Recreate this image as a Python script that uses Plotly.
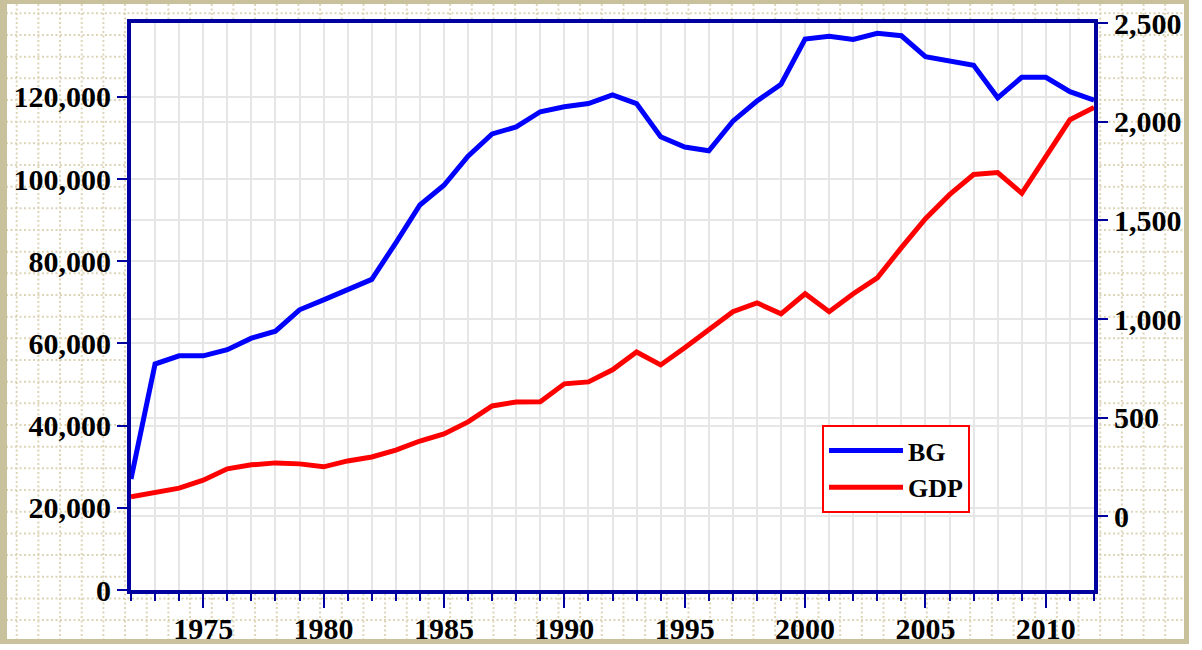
import plotly.graph_objects as go

years = list(range(1972, 2013))
bg = [27000, 55000, 57000, 57000, 58500, 61300, 63000, 68200, 70600, 73100, 75600,
      84500, 93700, 98500, 105600, 111000, 112700, 116400, 117600, 118400, 120500,
      118400, 110300, 107800, 106900, 114100, 119000, 123100, 134100, 134800, 134000,
      135500, 134900, 129800, 128800, 127700, 119800, 124800, 124800, 121300, 119200]
gdp = [98, 118, 142, 182, 240, 260, 270, 265, 250, 280, 300,
       335, 381, 417, 478, 559, 579, 580, 671, 681, 742,
       833, 767, 854, 945, 1037, 1082, 1026, 1128, 1037, 1128,
       1209, 1362, 1509, 1631, 1733, 1743, 1638, 1824, 2011, 2073]

W, H = 1202, 650
L, R, T, B = 131, 108, 23, 60
PW, PH = W - L - R, H - T - B

def fx(px):
    return (px - L) / PW

def fy(py):
    return (H - B - py) / PH

FONT = dict(family="Liberation Serif", size=30, color="black", weight="bold")
LFONT = dict(family="Liberation Serif", size=26, color="black", weight="bold")
BLUE_AX = "#0000a0"
GRID = "#e6e6e6"
TAN = "#c9c09c"
DOT = "#ddd5b8"

fig = go.Figure()
fig.add_trace(go.Scatter(x=years, y=bg, name="BG", mode="lines",
                         line=dict(color="#0000ff", width=5), yaxis="y"))
fig.add_trace(go.Scatter(x=years, y=gdp, name="GDP", mode="lines",
                         line=dict(color="#ff0000", width=5), yaxis="y2"))

shapes = []
# dotted background pattern
k = 0
while True:
    xx = 16.7 + k * 21.67
    if xx > 1183:
        break
    shapes.append(dict(type="line", xref="paper", yref="paper", layer="below",
                       x0=fx(xx), x1=fx(xx), y0=fy(4), y1=fy(640),
                       line=dict(color=DOT, width=2, dash="2px,2.5px")))
    k += 1
k = 0
while True:
    yy = 13.3 + k * 21.67
    if yy > 638:
        break
    shapes.append(dict(type="line", xref="paper", yref="paper", layer="below",
                       x0=fx(6), x1=fx(1184), y0=fy(yy), y1=fy(yy),
                       line=dict(color=DOT, width=2, dash="2px,2.5px")))
    k += 1
# white plot area cover
shapes.append(dict(type="rect", xref="paper", yref="paper", layer="below",
                   x0=0, x1=1, y0=0, y1=1, fillcolor="white", line=dict(width=0)))
# tan frame
shapes.append(dict(type="rect", xref="paper", yref="paper", layer="below",
                   x0=fx(2.5), x1=fx(1186.5), y0=fy(1.5), y1=fy(641.5),
                   line=dict(color=TAN, width=5)))
shapes.append(dict(type="rect", xref="paper", yref="paper", layer="below",
                   x0=fx(0), x1=fx(7), y0=fy(0), y1=fy(644),
                   fillcolor=TAN, line=dict(width=0)))

fig.update_layout(
    width=W, height=H,
    margin=dict(l=L, r=R, t=T, b=B, pad=0, autoexpand=False),
    paper_bgcolor="white",
    plot_bgcolor="white",
    font=FONT,
    showlegend=True,
    legend=dict(x=fx(822), y=fy(425), xanchor="left", yanchor="top",
                bgcolor="white", bordercolor="#ff0000", borderwidth=2,
                font=LFONT, itemwidth=74, tracegroupgap=0),
    shapes=shapes,
    xaxis=dict(range=[1972, 2012], tick0=1975, dtick=5, ticks="outside",
               ticklen=14, tickwidth=2, tickcolor=BLUE_AX,
               showgrid=True, gridcolor=GRID, gridwidth=1.5,
               showline=True, linewidth=4, linecolor=BLUE_AX, mirror=True,
               tickfont=FONT, zeroline=False, automargin=False,
               ticklabelstandoff=-5,
               minor=dict(dtick=1, tick0=1972, ticks="outside", ticklen=7,
                          tickwidth=2, tickcolor=BLUE_AX, showgrid=True,
                          gridcolor=GRID, gridwidth=1.5)),
    yaxis=dict(range=[0, 138000], tick0=0, dtick=20000, tickformat=",",
               ticks="outside", ticklen=10, tickwidth=2, tickcolor=BLUE_AX,
               showgrid=True, gridcolor=GRID, gridwidth=1.5,
               showline=True, linewidth=4, linecolor=BLUE_AX,
               tickfont=FONT, zeroline=False, automargin=False),
    yaxis2=dict(range=[-375, 2502], tick0=0, dtick=500, tickformat=",",
                overlaying="y", side="right",
                ticks="outside", ticklen=10, tickwidth=2, tickcolor=BLUE_AX,
                showgrid=True, gridcolor=GRID, gridwidth=1.5,
                showline=True, linewidth=4, linecolor=BLUE_AX,
                tickfont=FONT, zeroline=False, automargin=False),
)

fig.write_html("out.html", config={"displayModeBar": False},
               post_script="document.body.style.margin='0';")
